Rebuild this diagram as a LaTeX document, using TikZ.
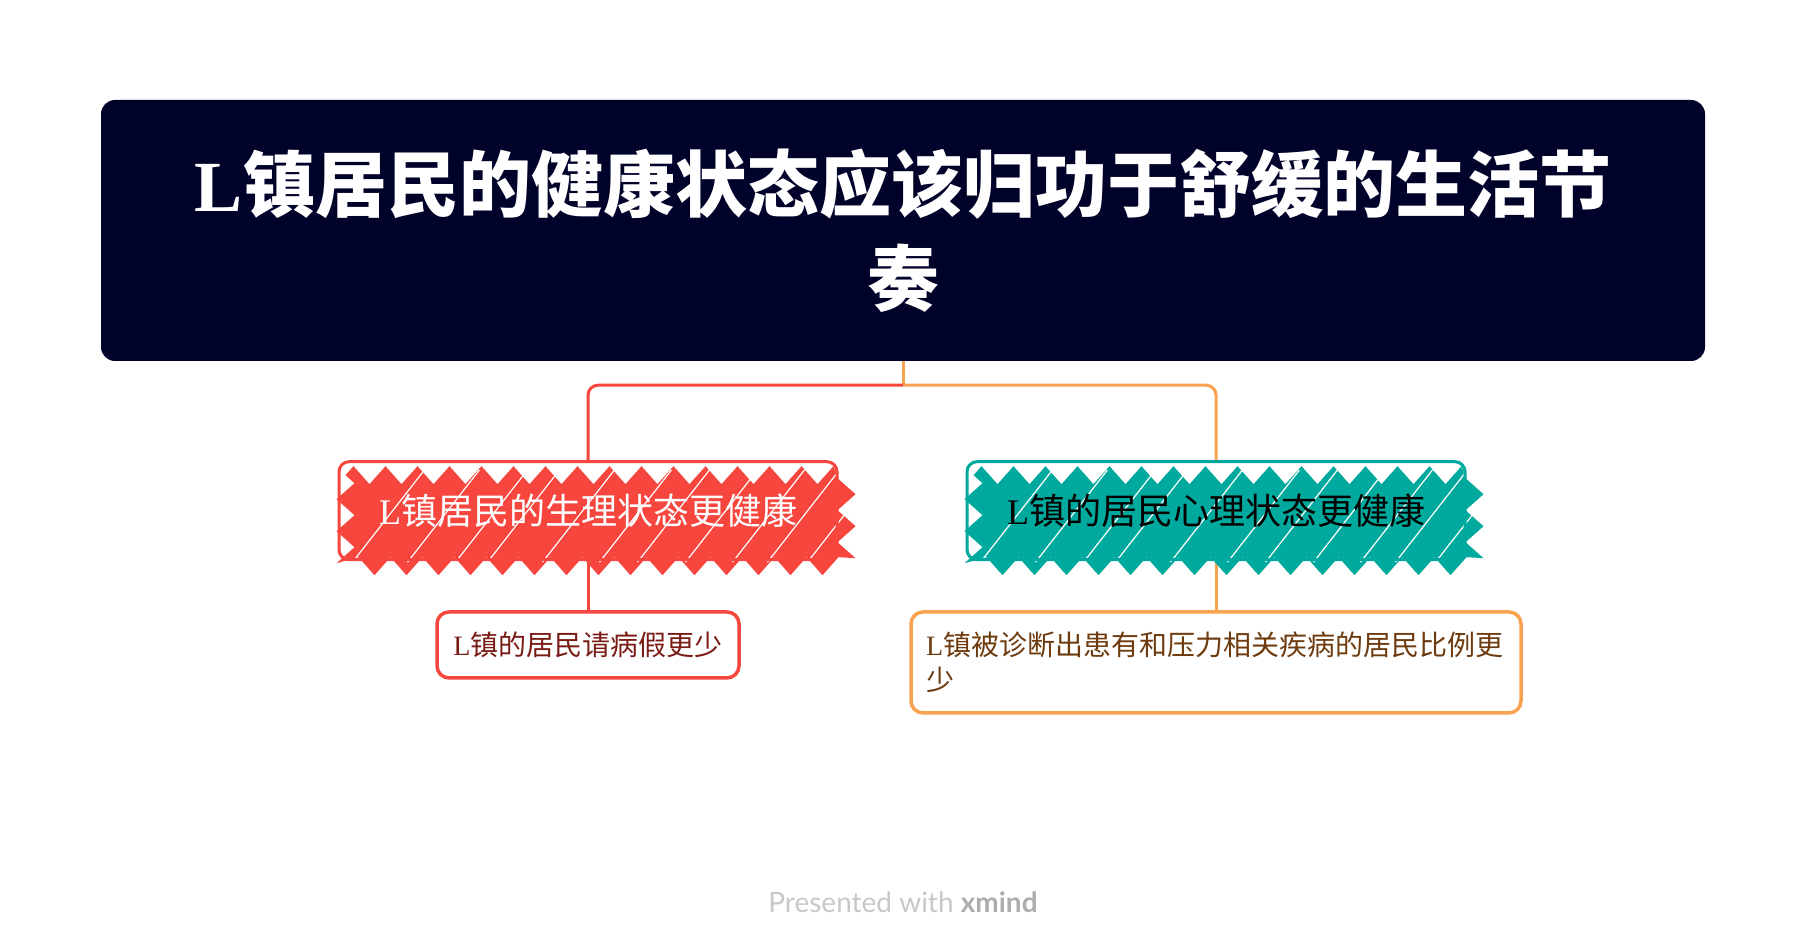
\documentclass[tikz,border=0pt]{standalone}
\usepackage{fontspec}
\setmainfont{Liberation Serif}
\newfontfamily\cjk{Noto Sans CJK SC}
\newfontfamily\footfont{Lato}
\usetikzlibrary{positioning, backgrounds, decorations.pathmorphing}
\definecolor{navy}{HTML}{000229}
\definecolor{branchred}{HTML}{F7463D}
\definecolor{branchteal}{HTML}{00A99D}
\definecolor{lineorange}{HTML}{F9A24F}
\definecolor{textred}{HTML}{7A1C16}
\definecolor{textbrown}{HTML}{6E3B0F}
\definecolor{footgray}{HTML}{C8C8C8}
\newcommand{\zh}[1]{{\cjk #1}}

\begin{document}
\begin{tikzpicture}[x=1pt, y=1pt,
  root/.style={fill=navy,rounded corners=14pt,minimum width=1604pt,minimum height=261pt,align=center,text=white,font=\fontsize{72}{94}\selectfont\bfseries},
  branch/.style={draw=#1,line width=3pt,rounded corners=10pt,minimum width=498pt,minimum height=98pt,font=\fontsize{36}{44}\selectfont},
  leaf/.style={draw=#1,fill=white,line width=3.5pt,rounded corners=12pt,font=\fontsize{28}{35}\selectfont},
  scribble/.style={fill=#1,decorate,decoration={zigzag,segment length=32pt,amplitude=9pt}},
  link/.style={draw=#1,line width=3pt,rounded corners=10pt}]
  \node[root] (root) at (903,721.5) {L\zh{镇居民的健康状态应该归功于舒缓的生活节}\\\zh{奏}};
  \node[branch=branchred, text=white, below=99pt of root, xshift=-315pt] (body) {L\zh{镇居民的生理状态更健康}};
  \node[branch=branchteal, text=black, below=99pt of root, xshift=313pt] (mind) {L\zh{镇的居民心理状态更健康}};
  \node[leaf=branchred, text=textred, minimum width=302pt, minimum height=66pt, below=49pt of body] (sick) {L\zh{镇的居民请病假更少}};
  \node[leaf=lineorange, text=textbrown, minimum width=610pt, minimum height=101pt, text width=580pt, align=left, below=49pt of mind] (stress) {L\zh{镇被诊断出患有和压力相关疾病的居民比例更}\\\zh{少}};
  \node[font=\footfont\fontsize{28}{32}\selectfont, text=footgray] (credit) at (903,50) {Presented with {\color{black!32}\bfseries xmind}};
  \begin{scope}[on background layer]
    \path[fill=white] (0,0) rectangle (1804,952);
    \coordinate (fork) at ([yshift=-24pt]root.south);
    \draw[link=lineorange] (root.south) -- (fork);
    \draw[link=lineorange] (fork) -| (mind.north);
    \draw[link=branchred] (fork) -| (body.north);
    \draw[link=branchred] (body.south) -- (sick.north);
    \draw[link=lineorange] (mind.south) -- (stress.north);
    % hand-drawn fill of the two branches
    \foreach \n/\c in {body/branchred, mind/branchteal} {
      \fill[scribble=\c] ([xshift=8pt,yshift=-15pt]\n.north west) rectangle ([xshift=8pt,yshift=-5pt]\n.south east);
      \begin{scope}
        \clip ([yshift=-10pt]\n.north west) rectangle ([xshift=16pt,yshift=-12pt]\n.south east);
        \foreach \dx in {15,70,118,150,205,262,300,348,395,430,470}
          \draw[white, line width=1.2pt] ([xshift=\dx pt, yshift=-102pt]\n.north west) -- ++(78,100);
      \end{scope}
    }
  \end{scope}
\end{tikzpicture}
\end{document}
